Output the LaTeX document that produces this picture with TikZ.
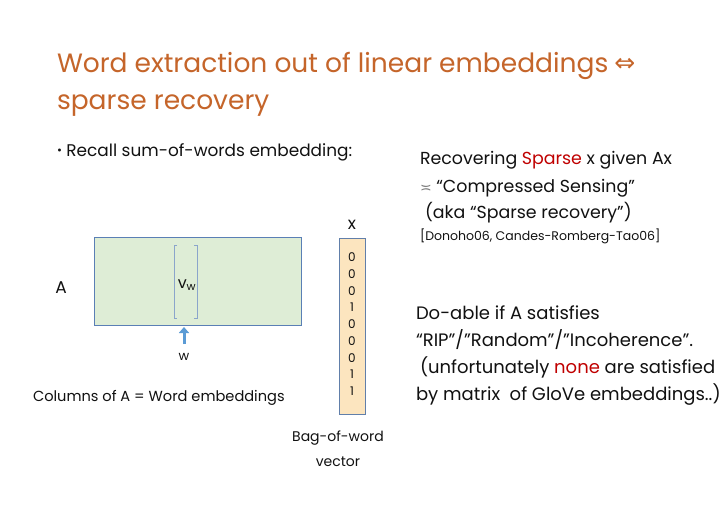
\documentclass[tikz,border=0pt]{standalone}
\usepackage{fontspec}
\setmainfont{Poppins}
\newfontfamily\symfont{DejaVu Sans}
\usetikzlibrary{arrows.meta}
\definecolor{titlecol}{HTML}{C5652A}
\definecolor{redcol}{HTML}{C00000}
\definecolor{greenfill}{HTML}{DEEDD6}
\definecolor{boxline}{HTML}{5A7FB5}
\definecolor{vecfill}{HTML}{FCE5BF}
\definecolor{arrowblue}{HTML}{5B9BD5}
\definecolor{txt}{HTML}{111111}
\tikzset{
  every node/.style={inner sep=0pt, outer sep=0pt, text=txt},
  title/.style={anchor=base west, font=\fontsize{26.5}{30}\selectfont, text=titlecol},
  body/.style={anchor=base west, font=\fontsize{17.4}{20}\selectfont},
  small/.style={anchor=base west, font=\fontsize{12.5}{15}\selectfont},
  digit/.style={font=\fontsize{12}{14}\selectfont},
}
\begin{document}
\begin{tikzpicture}[x=1pt,y=-1pt]
\useasboundingbox (0,0) rectangle (720,504);
\fill[white] (0,0) rectangle (720,504);
% title
\node[title] (t1) at (57,72) {Word extraction out of linear embeddings\hspace{6pt}{\symfont\fontsize{25}{28}\selectfont\raisebox{1pt}{⇔}}};
\node[title] (t2) at (57,109) {sparse recovery};
% bullet
\node[body, font=\fontsize{16.9}{20}\selectfont] (b1) at (57,156) {{\fontsize{12}{14}\selectfont\raisebox{2pt}{•}} Recall sum-of-words embedding:};
% right text
\node[body] (r1) at (420,164) {Recovering \textcolor{redcol}{Sparse} x given Ax};
\node[body] (r2) at (420,192) {{\symfont\fontsize{14}{16}\selectfont\textcolor{gray}{≍}} “Compressed Sensing”};
\node[body] (r3) at (425,218) {(aka “Sparse recovery”)};
\node[small] (r4) at (420,240) {[Donoho06, Candes-Romberg-Tao06]};
\node[body, font=\fontsize{18}{21}\selectfont] (d1) at (416,319) {Do-able if A satisfies};
\node[body, font=\fontsize{18}{21}\selectfont] (d2) at (416,346) {“RIP”/”Random”/”Incoherence”.};
\node[body, font=\fontsize{18}{21}\selectfont] (d3) at (420,373) {(unfortunately \textcolor{redcol}{none} are satisfied};
\node[body, font=\fontsize{18}{21}\selectfont] (d4) at (416,400) {by matrix\ \ of GloVe embeddings..)};
% matrix A
\node[draw=boxline, fill=greenfill, line width=0.8pt, minimum width=207pt, minimum height=88pt, anchor=north west] (A) at (94,237) {};
\draw[boxline!70, line width=0.6pt] (177,245) -- (174,245) -- (174,318) -- (177,318);
\draw[boxline!70, line width=0.6pt] (194,245) -- (197,245) -- (197,318) -- (194,318);
\node[font=\fontsize{16}{18}\selectfont] (vw) at (187,285) {v\textsubscript{\fontsize{11}{12}\selectfont w}};
\node[font=\fontsize{17}{19}\selectfont] (Alab) at (61,288) {A};
\coordinate (wtip) at (184,327);
\node[font=\fontsize{13}{14}\selectfont] (w) at (184,357) {w};
\draw[arrowblue, line width=3pt, -{Triangle[length=6pt,width=10pt]}] (184,344) -- (wtip);
\node[body, font=\fontsize{14.6}{16}\selectfont] (cols) at (33,401) {Columns of A = Word embeddings};
% vector x
\node[font=\fontsize{17}{19}\selectfont] (xlab) at (352,225) {x};
\node[draw=boxline!80!gray, fill=vecfill, line width=0.8pt, minimum width=26pt, minimum height=176pt, anchor=north west] (X) at (339,238) {};
\foreach \d [count=\i from 0] in {0,0,0,1,0,0,0,1,1}
  \node[digit] (x\i) at (352,257+16.8*\i) {\d};
\node[font=\fontsize{14}{16}\selectfont] (bag1) at (338,438) {Bag-of-word};
\node[font=\fontsize{14}{16}\selectfont] (bag2) at (338,462) {vector};
\end{tikzpicture}
\end{document}
